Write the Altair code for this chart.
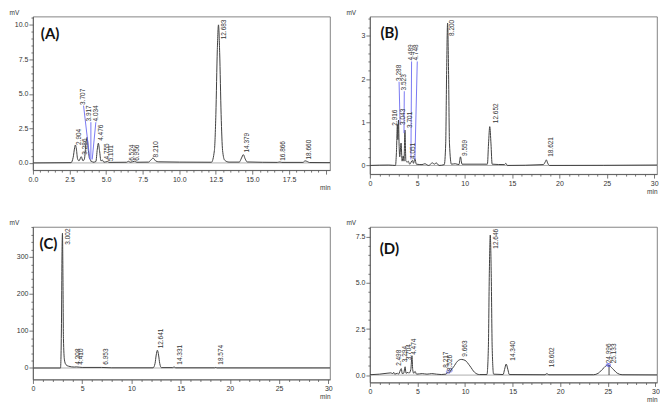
import altair as alt
import pandas as pd

# ---------------- Panel A ----------------
A_T = [0.0, 2.6, 2.75, 2.85, 2.9, 2.97, 3.05, 3.15, 3.3, 3.42, 3.52, 3.62, 3.7, 3.78, 3.87, 3.92, 3.97, 4.03, 4.1, 4.3,
       4.4, 4.47, 4.55, 4.65, 4.75, 4.85, 5.1, 5.2, 6.4, 6.52, 6.65, 6.95, 7.1, 7.9, 8.05, 8.21, 8.38, 8.6, 10.0, 12.2,
       12.4, 12.5, 12.6, 12.68, 12.76, 12.86, 12.96, 13.1, 13.4, 14.1, 14.25, 14.38, 14.5, 14.65, 16.7, 16.87, 17.0,
       18.45, 18.6, 18.75, 18.9, 20.3]
A_MV = [0.0, 0.02, 0.4, 1.1, 1.3, 1.0, 0.3, 0.15, 0.45, 0.15, 0.3, 1.4, 1.85, 1.0, 0.3, 0.25, 0.1, 0.12, 0.05, 0.1,
        1.0, 1.43, 0.9, 0.15, 0.2, 0.05, 0.1, 0.04, 0.05, 0.12, 0.05, 0.12, 0.05, 0.06, 0.2, 0.35, 0.15, 0.08, 0.06, 0.05,
        0.9, 3.5, 8.2, 10.0, 8.0, 3.5, 0.9, 0.2, 0.06, 0.06, 0.35, 0.6, 0.3, 0.07, 0.04, 0.07, 0.04,
        0.04, 0.15, 0.1, 0.03, 0.02]
A_LAB = ["2.904", "3.286", "3.707", "3.917", "4.034", "4.476", "4.755", "5.101", "6.524", "6.956", "8.210",
         "12.683", "14.379", "16.866", "18.660"]
A_LAB_T = [3.17, 3.55, 3.44, 3.82, 4.34, 4.68, 5.09, 5.36, 6.79, 7.13, 8.42, 13.08, 14.64, 17.08, 18.89]
A_LAB_V = [1.3, 0.6, 4.2, 3.0, 3.0, 1.6, 0.25, 0.12, 0.15, 0.15, 0.4, 8.95, 0.75, 0.15, 0.25]
A_L_T1 = [3.46, 3.96, 4.30]
A_L_V1 = [4.15, 2.95, 2.95]
A_L_T2 = [3.89, 3.96, 4.05]
A_L_V2 = [0.25, 0.25, 0.25]
A_L_C = ["#6a6af0", "#6a6af0", "#6a6af0"]

# ---------------- Panel B ----------------
B_T = [0.0, 2.0, 2.7, 2.8, 2.9, 2.95, 3.02, 3.08, 3.15, 3.29, 3.4, 3.52, 3.6, 3.7, 3.8, 3.95, 4.05, 4.2, 4.49, 4.6,
       4.75, 4.9, 5.5, 5.8, 6.2, 6.6, 6.8, 7.0, 7.3, 7.85, 8.0, 8.1, 8.2, 8.3, 8.4, 8.6, 9.0, 9.4, 9.56, 9.72,
       12.4, 12.52, 12.65, 12.78, 12.9, 14.2, 14.35, 14.5, 18.3, 18.5, 18.62, 18.75, 18.95, 30.3]
B_MV = [0.0, 0.01, 0.0, 0.3, 0.95, 0.6, 1.05, 0.5, 0.2, 0.52, 0.1, 0.22, 0.1, 0.82, 0.1, 0.08, 0.1, 0.03, 0.12, 0.05,
        0.16, 0.03, 0.02, 0.04, 0.0, 0.06, 0.03, 0.06, 0.0, 0.02, 0.5, 2.2, 3.3, 2.2, 0.5, 0.03, 0.04, 0.02, 0.2, 0.03,
        0.03, 0.5, 0.9, 0.5, 0.03, 0.02, 0.05, 0.0, 0.02, 0.08, 0.13, 0.06, 0.0, 0.01]
B_LAB = ["2.916", "3.043", "3.288", "3.523", "3.701", "4.051", "4.489", "4.748", "8.200", "9.559", "12.652", "18.621"]
B_LAB_T = [2.7, 3.46, 3.08, 3.63, 4.22, 4.57, 4.29, 4.91, 8.7, 10.07, 13.3, 19.1]
B_LAB_V = [0.92, 0.94, 1.96, 1.74, 0.87, 0.15, 2.43, 2.43, 3.0, 0.22, 0.98, 0.2]
B_L_T1 = [3.08, 3.63, 4.40, 5.0]
B_L_V1 = [1.94, 1.72, 2.41, 2.41]
B_L_T2 = [3.19, 3.6, 4.33, 4.75]
B_L_V2 = [0.94, 0.75, 0.14, 0.14]
B_L_C = ["#6a6af0", "#6a6af0", "#6a6af0", "#6a6af0"]

# ---------------- Panel C ----------------
C_T = [0.0, 2.8, 2.9, 2.95, 3.0, 3.05, 3.1, 3.2, 3.35, 3.6, 4.2, 4.4, 5.0, 6.95, 8.0, 12.2, 12.4, 12.52, 12.64, 12.76,
       12.88, 13.05, 14.2, 14.33, 14.5, 18.45, 18.57, 18.7, 30.3]
C_MV = [0.0, 0.0, 120, 300, 364, 240, 80, 22, 9, 5, 2.5, 3, 1.5, 1.5, 0.5, 0.5, 12, 35, 48, 35,
        12, 1, 1, 3, 0.5, 0.5, 1.5, 0.3, 0.2]
C_LAB = ["3.002", "4.208", "4.410", "6.953", "12.641", "14.331", "18.574"]
C_LAB_T = [3.56, 4.58, 4.9, 7.4, 13.05, 14.9, 19.15]
C_LAB_V = [333, 9, 9, 9, 53, 9, 9]

# ---------------- Panel D ----------------
D_T = [0.0, 1.0, 1.8, 2.2, 2.4, 2.5, 2.6, 2.9, 3.0, 3.3, 3.4, 3.55, 3.7, 3.8, 4.0, 4.1, 4.3, 4.42, 4.5, 4.6,
       4.75, 4.9, 5.5, 6.0, 6.5, 7.0, 7.5, 8.0, 8.2, 8.35, 8.5, 8.8, 9.2, 9.6, 10.0, 10.5, 11.0, 11.5, 12.3, 12.45,
       12.55, 12.65, 12.75, 12.85, 13.0, 14.0, 14.15, 14.32, 14.5, 14.65, 18.4, 18.6, 18.8, 23.5, 24.0, 24.5, 25.0,
       25.5, 26.0, 26.5, 30.3]
D_MV = [0.02, 0.05, 0.1, 0.12, 0.08, 0.15, 0.05, 0.1, 0.05, 0.35, 0.08, 0.1, 0.45, 0.1, 0.15, 0.1, 0.3, 1.05, 0.3, 0.1,
        0.2, 0.05, 0.08, 0.05, 0.08, 0.05, 0.03, 0.05, 0.18, 0.12, 0.25, 0.45, 0.75, 0.85, 0.8, 0.5, 0.15, 0.03, 0.03, 1.5,
        5.5, 7.6, 5.5, 1.5, 0.05, 0.03, 0.3, 0.6, 0.3, 0.03, 0.02, 0.08, 0.02, 0.02, 0.1, 0.35, 0.55,
        0.35, 0.1, 0.02, 0.01]
D_LAB = ["2.498", "3.294", "3.704", "4.474", "8.217", "8.526", "9.663", "12.646", "14.340", "18.602", "24.996", "25.133"]
D_LAB_T = [3.09, 3.7, 4.1, 4.66, 7.98, 8.43, 10.04, 13.27, 15.0, 19.1, 25.1, 25.6]
D_LAB_V = [0.5, 0.7, 0.8, 1.1, 0.4, 0.22, 1.0, 6.86, 0.78, 0.43, 0.64, 0.64]
D_L_T1 = [25.13]
D_L_V1 = [0.55]
D_L_T2 = [25.13]
D_L_V2 = [0.0]
D_L_C = ["#333333"]
D_PT_T = [8.2, 8.5, 25.0, 25.13]
D_PT_V = [0.18, 0.25, 0.55, 0.55]

LINE_COLOR = "#404040"
TXT_COLOR = "#333333"
FONT = "Liberation Sans"


def steps(lo, hi, step):
    n = int(round((hi - lo) / step))
    return [round(lo + i * step, 4) for i in range(n + 1)]


def panel(t, mv, labs, lab_t, lab_v, letter, let_t, let_v, xdom, ydom, xvals, xmaj, xfmt, xlabmax,
          yvals, ymaj, yfmt, w, h, leaders=None, points=None):
    xtest = f"abs(datum.value / {xmaj} - round(datum.value / {xmaj})) < 0.001"
    ytest = f"abs(datum.value / {ymaj} - round(datum.value / {ymaj})) < 0.001"
    xs = alt.Scale(domain=xdom, nice=False, zero=False)
    ys = alt.Scale(domain=ydom, nice=False, zero=False)
    xaxis = alt.Axis(values=xvals,
                     labelExpr=f"({xtest}) && datum.value <= {xlabmax} ? format(datum.value, '{xfmt}') : ''",
                     tickSize={"condition": {"test": xtest, "value": 4}, "value": 2},
                     labelFlush=False, labelOverlap=False, grid=False, labelPadding=1,
                     title="min", titleX=w, titleY=20, titleAlign="right", titleBaseline="bottom",
                     titleAngle=0)
    yaxis = alt.Axis(values=yvals, labelExpr=f"{ytest} ? format(datum.value, '{yfmt}') : ''",
                     tickSize={"condition": {"test": ytest, "value": 4}, "value": 2},
                     labelFlush=False, labelOverlap=False, grid=False, labelPadding=1,
                     title="mV", titleX=-24, titleY=-1, titleAlign="left", titleBaseline="bottom",
                     titleAngle=0)
    X = alt.X("t:Q", scale=xs, axis=xaxis)
    Y = alt.Y("v:Q", scale=ys, axis=yaxis)

    zero = alt.Chart(pd.DataFrame({"v": [0.0]})).mark_rule(color="#9a9a9a", strokeWidth=0.8).encode(y=Y)
    trace = alt.Chart(pd.DataFrame({"t": t, "v": mv})).mark_line(
        color=LINE_COLOR, strokeWidth=1, interpolate="monotone", clip=True).encode(x=X, y=Y)
    labels = alt.Chart(pd.DataFrame({"t": lab_t, "v": lab_v, "s": labs})).mark_text(
        angle=270, align="left", baseline="middle", fontSize=6.5, font=FONT, color=TXT_COLOR
    ).encode(x=X, y=Y, text="s:N")
    let = alt.Chart(pd.DataFrame({"t": [let_t], "v": [let_v], "s": [letter]})).mark_text(
        align="left", baseline="top", fontSize=15, font="Lato", fontWeight="bold", color="#111111"
    ).encode(x=X, y=Y, text="s:N")
    layers = [zero, trace]
    if leaders is not None:
        l_t1, l_v1, l_t2, l_v2, l_c = leaders
        layers.append(alt.Chart(pd.DataFrame({"t": l_t1, "v": l_v1, "t2": l_t2, "v2": l_v2, "c": l_c})).mark_rule(
            strokeWidth=0.9).encode(x=X, y=Y, x2="t2:Q", y2="v2:Q", color=alt.Color("c:N", scale=None)))
    if points is not None:
        p_t, p_v = points
        layers.append(alt.Chart(pd.DataFrame({"t": p_t, "v": p_v})).mark_point(
            shape="circle", size=10, color="#5555ee", strokeWidth=0.8, filled=False).encode(x=X, y=Y))
    layers += [labels, let]
    return alt.layer(*layers).properties(width=w, height=h)


pa = panel(A_T, A_MV, A_LAB, A_LAB_T, A_LAB_V, "(A)", 0.54, 9.83, [0, 20.3], [-0.52, 10.6],
           steps(0, 20, 0.5), 2.5, ".1f", 17.5, steps(0, 10.5, 0.5), 2.5, ".1f", 298, 154,
           leaders=(A_L_T1, A_L_V1, A_L_T2, A_L_V2, A_L_C))
pb = panel(B_T, B_MV, B_LAB, B_LAB_T, B_LAB_V, "(B)", 1.11, 3.23, [0, 30.3], [-0.2, 3.45],
           steps(0, 30, 1), 5, "d", 30, steps(0, 3.4, 0.2), 1, "d", 288, 158,
           leaders=(B_L_T1, B_L_V1, B_L_T2, B_L_V2, B_L_C))
pc = panel(C_T, C_MV, C_LAB, C_LAB_T, C_LAB_V, "(C)", 0.68, 354, [0, 30.17], [-31, 381],
           steps(0, 30, 1), 5, "d", 30, steps(0, 380, 20), 100, "d", 298, 153)
pd_ = panel(D_T, D_MV, D_LAB, D_LAB_T, D_LAB_V, "(D)", 1.03, 7.2, [0, 30.17], [-0.4, 8.04],
            steps(0, 30, 1), 5, "d", 30, steps(0, 8, 0.5), 2.5, ".1f", 288, 156,
            leaders=(D_L_T1, D_L_V1, D_L_T2, D_L_V2, D_L_C), points=(D_PT_T, D_PT_V))

chart = alt.concat(pa, pb, pc, pd_, columns=2, spacing={"row": 53, "column": 40}, bounds="flush").properties(
    padding=0, background="white"
).configure_axis(
    labelFont=FONT, labelFontSize=7, labelColor=TXT_COLOR,
    titleFont=FONT, titleFontSize=6.5, titleFontWeight="normal", titleColor=TXT_COLOR,
    domainColor="#555555", tickColor="#555555", domainWidth=0.8, tickWidth=0.8
).configure_view(stroke="#666666", strokeWidth=0.8)

chart.save("out.html", embed_options={"renderer": "svg", "actions": False})
